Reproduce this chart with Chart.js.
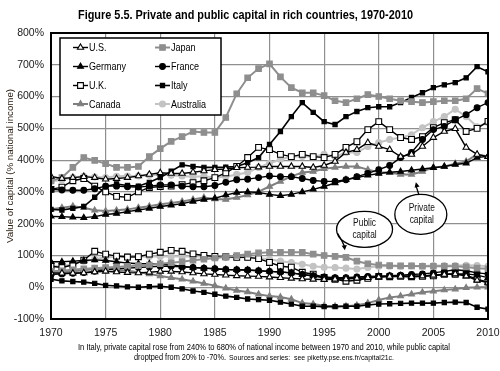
<!DOCTYPE html>
<html><head><meta charset="utf-8">
<script src="https://cdn.jsdelivr.net/npm/chart.js@4"></script>
<style>html,body{margin:0;padding:0;background:#fff;}canvas{display:block}</style>
</head><body>
<canvas id="c" width="500" height="371"></canvas>
<script>
const years = [1970,1971,1972,1973,1974,1975,1976,1977,1978,1979,1980,1981,1982,1983,1984,1985,1986,1987,1988,1989,1990,1991,1992,1993,1994,1995,1996,1997,1998,1999,2000,2001,2002,2003,2004,2005,2006,2007,2008,2009,2010];
const xTickYears = [1970,1975,1980,1985,1990,1995,2000,2005,2010];
const yTickValues = [-100,0,100,200,300,400,500,600,700,800];
const countries = ['U.S.','Japan','Germany','France','U.K.','Italy','Canada','Australia'];

// Private capital (% of national income)
const usPrivate = [349,342,345,348,345,340,342,345,350,355, 360,358,358,362,366,370,372,376,377,378, 380,380,380,380,377,383,396,424,433,455, 443,433,411,418,443,471,490,499,440,418,411];
const japanPrivate = [335,345,377,408,399,389,377,377,380,411, 436,459,474,490,487,487,534,609,659,688, 703,662,628,612,612,603,587,581,593,606, 600,593,587,584,581,584,587,587,593,625,609];
const germanyPrivate = [223,222,220,219,222,229,232,238,243,248, 254,258,263,270,276,280,290,298,300,298, 292,288,292,300,308,317,328,338,345,352, 358,362,364,368,372,376,380,386,390,408,412];
const francePrivate = [308,306,305,305,310,318,318,316,315,318, 322,322,318,316,316,320,330,338,340,345, 350,348,348,342,336,333,333,338,348,358, 370,383,408,424,465,496,506,527,543,565,581];
const ukPrivate = [308,315,335,342,318,300,286,283,300,314, 317,318,323,329,335,345,360,380,408,440, 433,418,411,418,411,408,418,440,458,496, 521,496,471,465,474,502,518,527,490,500,522];
const italyPrivate = [245,243,248,254,283,317,325,320,318,330, 345,365,385,380,377,377,378,380,392,408, 449,490,537,581,550,521,512,537,553,565, 568,568,581,597,612,628,637,644,659,694,678];
const canadaPrivate = [245,250,255,250,242,240,242,245,250,255, 261,265,270,276,282,278,276,282,290,301, 317,333,349,361,364,373,377,380,380,370, 362,361,355,355,364,377,380,389,396,418,411];
const australiaPrivate = [333,338,345,349,347,345,349,350,350,352, 355,352,350,348,349,345,348,355,361,377, 390,402,411,411,411,418,411,424,424,443, 455,465,471,480,502,521,537,560,537,505,518];

// Public capital (% of national income)
const usPublic = [45,44,44,45,48,50,48,46,45,47, 50,50,48,45,42,40,38,36,35,34, 32,30,28,26,25,24,25,26,28,30, 32,34,34,33,35,38,40,42,35,22,15];
const japanPublic = [50,52,55,58,60,62,64,66,68,70, 74,77,80,85,88,92,96,100,104,108, 110,110,110,110,104,100,97,94,82,74, 70,68,67,67,66,66,66,66,64,60,58];
const germanyPublic = [80,80,82,84,86,84,80,76,74,74, 72,70,66,62,60,58,56,55,54,52, 50,48,45,40,35,30,28,28,28,30, 32,35,36,35,36,38,40,42,42,38,30];
const francePublic = [40,42,44,46,50,55,58,60,62,64, 66,66,64,62,60,58,56,55,54,52, 50,48,45,40,36,32,30,30,32,34, 35,36,38,40,42,45,50,55,52,45,42];
const ukPublic = [66,62,70,85,113,104,98,95,96,104, 110,116,113,105,100,97,96,94,94,90, 78,66,63,47,41,31,25,19,22,28, 34,33,34,33,34,36,41,41,38,25,16];
const italyPublic = [25,20,18,16,12,6,4,1,0,2, 3,0,-5,-12,-16,-22,-28,-32,-37,-39, -41,-47,-53,-60,-60,-61,-61,-60,-60,-56, -53,-52,-51,-50,-50,-50,-48,-47,-48,-63,-69];
const canadaPublic = [45,48,50,53,57,57,55,52,47,42, 35,30,25,19,12,5,-3,-10,-15,-22, -28,-31,-38,-50,-53,-58,-60,-60,-57,-50, -40,-32,-28,-22,-16,-13,-9,-6,-2,0,0];
const australiaPublic = [66,66,72,82,88,94,95,96,96,97, 97,97,97,97,97,95,94,94,94,92, 88,82,78,72,66,63,62,60,57,62, 66,66,66,67,67,68,68,68,69,68,66];

const seriesPrivate = [usPrivate, japanPrivate, germanyPrivate, francePrivate, ukPrivate, italyPrivate, canadaPrivate, australiaPrivate];
const seriesPublic = [usPublic, japanPublic, germanyPublic, francePublic, ukPublic, italyPublic, canadaPublic, australiaPublic];

const SANS = "'Liberation Sans', Arial, Helvetica, sans-serif";
const styles = [
  {line:'#000000', fill:'#ffffff', border:'#000000', ps:'triangle', r:3.6, lw:1.4},  // U.S.
  {line:'#8e8e8e', fill:'#8e8e8e', border:'#8e8e8e', ps:'rect', r:3.9, lw:2.0},      // Japan
  {line:'#000000', fill:'#000000', border:'#000000', ps:'triangle', r:3.4, lw:1.4},  // Germany
  {line:'#000000', fill:'#000000', border:'#000000', ps:'circle', r:2.9, lw:1.4},    // France
  {line:'#000000', fill:'#ffffff', border:'#000000', ps:'rect', r:4.1, lw:1.4},      // U.K.
  {line:'#000000', fill:'#000000', border:'#000000', ps:'rect', r:3.0, lw:1.6},      // Italy
  {line:'#7f7f7f', fill:'#7f7f7f', border:'#7f7f7f', ps:'triangle', r:3.4, lw:2.0},  // Canada
  {line:'#c3c3c3', fill:'#c3c3c3', border:'#c3c3c3', ps:'circle', r:3.0, lw:2.0}     // Australia
];

function makeDataset(label, arr, st) {
  return {
    label: label,
    data: years.map((yr, i) => ({x: yr, y: arr[i]})),
    borderColor: st.line, borderWidth: st.lw,
    pointStyle: st.ps, pointRadius: st.r,
    pointBackgroundColor: st.fill, pointBorderColor: st.border, pointBorderWidth: 1.1,
    tension: 0, fill: false
  };
}
const datasets = [];
countries.forEach((c, i) => {
  datasets.push(makeDataset(c + ' private', seriesPrivate[i], styles[i]));
  datasets.push(makeDataset(c + ' public', seriesPublic[i], styles[i]));
});

function narrowText(ctx, text, x, y, size, weight, color, align, scaleX, targetW) {
  ctx.save();
  ctx.font = (weight || 'normal') + ' ' + size + 'px ' + SANS;
  ctx.fillStyle = color || '#000';
  ctx.textBaseline = 'middle';
  ctx.textAlign = 'left';
  const w = ctx.measureText(text).width;
  const sx = targetW ? targetW / w : (scaleX || 0.82);
  let x0 = x;
  if (align === 'center') x0 = x - w * sx / 2;
  else if (align === 'right') x0 = x - w * sx;
  ctx.translate(x0, y);
  ctx.scale(sx, 1);
  ctx.fillText(text, 0, 0);
  ctx.restore();
}

function arrowHead(ctx, x1, y1, x2, y2) {
  const a = Math.atan2(y2 - y1, x2 - x1), L = 5, W = 2.6;
  ctx.beginPath();
  ctx.moveTo(x2, y2);
  ctx.lineTo(x2 - L*Math.cos(a) + W*Math.sin(a), y2 - L*Math.sin(a) - W*Math.cos(a));
  ctx.lineTo(x2 - L*Math.cos(a) - W*Math.sin(a), y2 - L*Math.sin(a) + W*Math.cos(a));
  ctx.closePath();
  ctx.fill();
}

const decor = {
  id: 'decor',
  afterDraw(chart) {
    const ctx = chart.ctx, ca = chart.chartArea;
    const xs = chart.scales.x, ys = chart.scales.y;
    ctx.save();
    // frame
    ctx.strokeStyle = '#000'; ctx.lineWidth = 2;
    ctx.strokeRect(ca.left, ca.top, ca.right - ca.left, ca.bottom - ca.top);

    // legend
    const lx = ca.left + 9, ly = ca.top + 5, lw = 161, lh = 77;
    ctx.fillStyle = '#fff'; ctx.fillRect(lx, ly, lw, lh);
    ctx.strokeStyle = '#000'; ctx.lineWidth = 1.5; ctx.strokeRect(lx, ly, lw, lh);
    const colX = [lx + 13, lx + 95];
    const rowY = [ly + 9.5, ly + 28.5, ly + 47.5, ly + 66];
    countries.forEach((c, i) => {
      const st = styles[i];
      const x0 = colX[i % 2], y0 = rowY[Math.floor(i / 2)];
      ctx.strokeStyle = st.line; ctx.lineWidth = st.lw;
      ctx.beginPath(); ctx.moveTo(x0, y0); ctx.lineTo(x0 + 15, y0); ctx.stroke();
      ctx.fillStyle = st.fill; ctx.strokeStyle = st.border; ctx.lineWidth = 1.1;
      Chart.helpers.drawPoint(ctx, {pointStyle: st.ps, radius: st.r, rotation: 0, borderWidth: 1.1}, x0 + 7.5, y0);
      narrowText(ctx, c, x0 + 16, y0 + 0.5, 11, 'normal', '#000', 'left', 0.82);
    });

    // annotations
    ctx.fillStyle = '#fff'; ctx.strokeStyle = '#000'; ctx.lineWidth = 1.3;
    // Private capital
    const pcx = xs.getPixelForValue(2003.85), pcy = ys.getPixelForValue(229);
    ctx.beginPath(); ctx.ellipse(pcx, pcy, 26, 20, 0, 0, Math.PI*2); ctx.fill(); ctx.stroke();
    const ptx = xs.getPixelForValue(2003.4), pty = ys.getPixelForValue(330);
    ctx.beginPath(); ctx.moveTo(pcx - 2, pcy - 20); ctx.lineTo(ptx, pty + 3); ctx.stroke();
    ctx.fillStyle = '#000'; arrowHead(ctx, pcx - 2, pcy - 20, ptx, pty);
    narrowText(ctx, 'Private', pcx + 1, pcy - 6, 10.5, 'normal', '#111', 'center', 0.8);
    narrowText(ctx, 'capital', pcx + 1, pcy + 6, 10.5, 'normal', '#111', 'center', 0.8);
    // Public capital
    ctx.fillStyle = '#fff';
    const qcx = xs.getPixelForValue(1998.7), qcy = ys.getPixelForValue(182);
    ctx.beginPath(); ctx.ellipse(qcx, qcy, 28, 18, 0, 0, Math.PI*2); ctx.fill(); ctx.stroke();
    const qtx = xs.getPixelForValue(1996.9), qty = ys.getPixelForValue(116);
    ctx.beginPath(); ctx.moveTo(qcx - 27, qcy + 4);
    ctx.quadraticCurveTo(qcx - 22, qcy + 12, qtx, qty - 3); ctx.stroke();
    ctx.fillStyle = '#000'; arrowHead(ctx, qtx - 1, qty - 8, qtx, qty);
    narrowText(ctx, 'Public', qcx, qcy - 6, 10.5, 'normal', '#111', 'center', 0.8);
    narrowText(ctx, 'capital', qcx, qcy + 6, 10.5, 'normal', '#111', 'center', 0.8);

    // y-axis title
    ctx.save();
    ctx.translate(10, 166); ctx.rotate(-Math.PI/2);
    narrowText(ctx, 'Value of capital (% national income)', 0, 0, 9.5, 'normal', '#2e2218', 'center', null, 154);
    ctx.restore();

    // title
    narrowText(chart.ctx, 'Figure 5.5. Private and public capital in rich countries, 1970-2010', 78, 15.5, 12.5, 'bold', '#000', 'left', null, 335);

    // source notes
    narrowText(ctx, 'In Italy, private capital rose from 240% to 680% of national income between 1970 and 2010, while public capital', 78, 347.5, 8.3, 'normal', '#000', 'left', null, 372);
    narrowText(ctx, 'droptped from 20% to -70%.', 134, 357.5, 8.3, 'normal', '#000', 'left', null, 92);
    narrowText(ctx, 'Sources and series:  see piketty.pse.ens.fr/capital21c.', 229, 357.8, 7.2, 'normal', '#000', 'left', null, 165);
    ctx.restore();
  }
};

new Chart(document.getElementById('c'), {
  type: 'line',
  data: {datasets: datasets},
  options: {
    responsive: false, animation: false, devicePixelRatio: 1,
    layout: {padding: {top: 33, right: 12, bottom: 0, left: 0}},
    plugins: {legend: {display: false}, title: {display: false}, tooltip: {enabled: false}},
    scales: {
      x: {
        type: 'linear', min: xTickYears[0], max: xTickYears[xTickYears.length-1],
        afterBuildTicks: s => { s.ticks = xTickYears.map(v => ({value: v})); },
        afterFit: s => { s.height = 52; s.paddingLeft = 0; s.paddingRight = 0; },
        ticks: {font: {family: SANS, size: 10.5}, color: '#1a1a1a', padding: 8, maxRotation: 0, callback: v => String(v)},
        grid: {color: '#8f8f8f', lineWidth: 1.2, drawTicks: false},
        border: {display: true, color: '#000', width: 2}
      },
      y: {
        min: yTickValues[0], max: yTickValues[yTickValues.length-1],
        afterBuildTicks: s => { s.ticks = yTickValues.map(v => ({value: v})); },
        afterFit: s => { s.width = 51; s.paddingTop = 0; s.paddingBottom = 0; },
        ticks: {font: {family: SANS, size: 10.5}, color: '#1a1a1a', padding: 7, callback: v => v + '%'},
        grid: {color: '#8f8f8f', lineWidth: 1.2, drawTicks: false},
        border: {display: true, color: '#000', width: 2}
      }
    }
  },
  plugins: [decor]
});
</script>
</body></html>
